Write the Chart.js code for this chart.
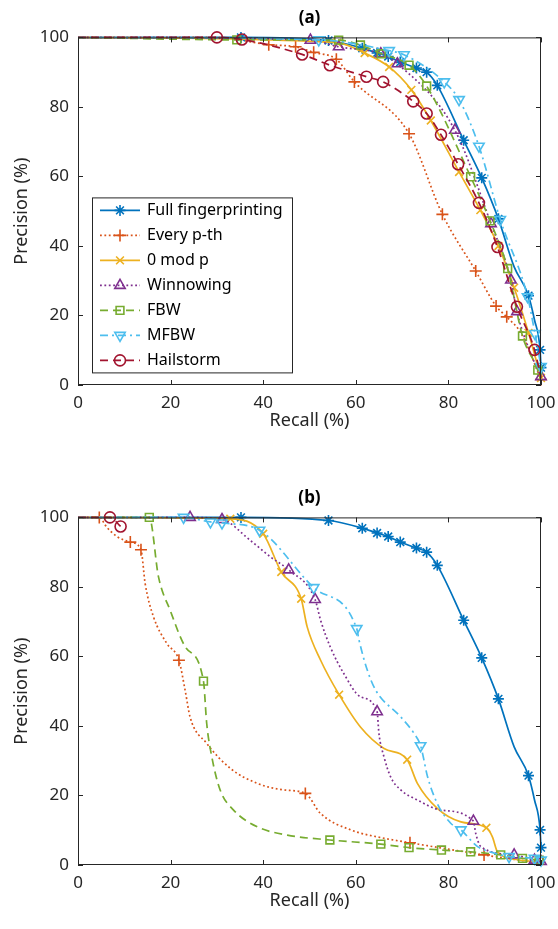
<!DOCTYPE html>
<html>
<head>
<meta charset="utf-8">
<script src="https://cdn.jsdelivr.net/npm/chart.js@4.4.1/dist/chart.umd.min.js"></script>
<style>
  body { margin: 0; background: #fff; }
  canvas { position: absolute; left: 0; }
</style>
</head>
<body>
<canvas id="chartA" width="558" height="464" style="top:0"></canvas>
<canvas id="chartB" width="558" height="465" style="top:464px"></canvas>
<script>
// ---- data (recall %, precision %, 1 = marker drawn at that point) ----
const seriesNames = ['Full fingerprinting', 'Every p-th', '0 mod p', 'Winnowing', 'FBW', 'MFBW', 'Hailstorm'];
const axisTicks = [0, 20, 40, 60, 80, 100];

// full fingerprinting is the same curve in (a) and (b)
const fullRecall = [0, 35.2, 54.1, 61.4, 64.6, 67.0, 69.6, 73.1, 75.3, 77.6, 83.3, 87.2, 90.8, 94.2, 97.3, 98.6, 99.8, 100];
const fullPrec   = [100, 100, 99.1, 96.9, 95.5, 94.5, 92.9, 91.2, 90.0, 86.2, 70.4, 59.6, 47.8, 34.0, 25.7, 18.7, 10.1, 5.0];
const fullMark   = [0, 1, 1, 1, 1, 1, 1, 1, 1, 1, 1, 1, 1, 0, 1, 0, 1, 1];

// (a)
const aEveryRecall = [0, 30, 41.2, 47.0, 50.9, 55.8, 59.7, 71.5, 78.7, 85.9, 90.3, 92.6, 95.7, 100];
const aEveryPrec   = [100, 100, 97.9, 97.3, 95.7, 93.7, 87.2, 72.3, 49.1, 32.8, 22.7, 19.6, 14.9, 1.6];
const aEveryMark   = [0, 0, 1, 1, 1, 1, 1, 1, 1, 1, 1, 1, 0, 1];

const aModRecall = [0, 56.0, 61.9, 67.2, 72.0, 76.2, 82.3, 86.9, 90.8, 94.2, 97.3, 100];
const aModPrec   = [100, 98.5, 95.5, 91.5, 84.9, 76.1, 61.3, 50.3, 40.0, 28.0, 15.0, 2.0];
const aModMark   = [0, 1, 1, 1, 1, 1, 1, 1, 1, 1, 1, 1];

const aWinRecall = [0, 50.2, 56.3, 65.4, 69.0, 81.4, 89.2, 93.5, 94.8, 97.5, 100];
const aWinPrec   = [100, 99.2, 97.3, 95.3, 92.4, 73.3, 46.4, 30.2, 21.1, 10.0, 2.4];
const aWinMark   = [0, 1, 1, 1, 1, 1, 1, 1, 1, 0, 1];

const aFbwRecall = [0, 34.3, 56.3, 61.0, 65.5, 71.5, 75.3, 84.8, 89.0, 92.8, 96.0, 99.3, 100];
const aFbwPrec   = [100, 99.3, 99.2, 97.8, 95.3, 92.0, 86.0, 59.9, 47.2, 33.5, 14.1, 4.3, 1.0];
const aFbwMark   = [0, 1, 1, 1, 1, 1, 1, 1, 1, 1, 1, 1, 0];

const aMfbwRecall = [0, 52.0, 67.2, 70.4, 79.1, 82.3, 86.6, 91.2, 97.1, 98.7, 100];
const aMfbwPrec   = [100, 99.3, 96.2, 95.0, 87.2, 82.1, 68.7, 47.6, 25.4, 14.8, 5.3];
const aMfbwMark   = [0, 1, 1, 1, 1, 1, 1, 1, 1, 1, 1];

const aHailRecall = [0, 30.0, 35.4, 48.4, 54.4, 62.3, 65.9, 72.4, 75.3, 78.4, 82.1, 86.6, 90.6, 94.8, 98.6, 100];
const aHailPrec   = [100, 100, 99.4, 95.1, 92.0, 88.7, 87.2, 81.6, 78.1, 72.0, 63.5, 52.4, 39.7, 22.5, 10.1, 2.0];
const aHailMark   = [0, 1, 1, 1, 1, 1, 1, 1, 1, 1, 1, 1, 1, 1, 1, 0];

// (b)
const bEveryRecall = [0, 4.6, 6.2, 8.4, 11.3, 13.6, 14.5, 16.3, 19.2, 21.8, 23.2, 24.2, 27.8, 32.9, 38.7, 44.4, 49.1, 52.4, 58.9, 66.1, 71.7, 87.7, 100];
const bEveryPrec   = [100, 100, 97.2, 94.5, 92.9, 90.7, 81.0, 71.4, 63.7, 58.9, 49.8, 42.6, 35.0, 27.8, 23.5, 21.6, 20.6, 14.8, 10.1, 7.7, 6.4, 2.9, 0.5];
const bEveryMark   = [0, 1, 0, 0, 1, 1, 0, 0, 0, 1, 0, 0, 0, 0, 0, 0, 1, 0, 0, 0, 1, 1, 0];

const bModRecall = [0, 32.9, 40.0, 43.9, 48.2, 49.5, 52.4, 56.4, 61.0, 66.1, 71.1, 73.3, 77.6, 82.7, 88.2, 89.5, 90.6, 95.0, 100];
const bModPrec   = [100, 99.6, 95.3, 84.3, 76.6, 68.5, 58.9, 49.0, 39.7, 33.5, 30.3, 23.5, 16.3, 12.4, 10.7, 8.1, 3.8, 1.5, 0.8];
const bModMark   = [0, 1, 1, 1, 1, 0, 0, 1, 0, 0, 1, 0, 0, 0, 1, 0, 0, 0, 0];

const bWinRecall = [0, 24.2, 31.1, 37.2, 41.6, 45.5, 51.2, 52.4, 54.5, 57.4, 61.0, 64.6, 65.0, 66.1, 67.5, 69.7, 73.3, 78.4, 85.4, 85.9, 87.0, 94.2, 98.6, 100];
const bWinPrec   = [100, 100, 99.4, 93.4, 88.6, 84.9, 76.4, 70.4, 62.7, 55.1, 48.4, 44.1, 37.8, 31.1, 25.4, 21.6, 18.7, 15.8, 12.6, 9.1, 5.3, 2.9, 1.4, 1.0];
const bWinMark   = [0, 1, 1, 0, 0, 1, 1, 0, 0, 0, 0, 1, 0, 0, 0, 0, 0, 0, 1, 0, 0, 1, 1, 1];

const bFbwRecall = [0, 15.4, 17.4, 19.9, 23.2, 27.1, 27.8, 28.9, 30.7, 33.6, 38.7, 45.2, 54.4, 65.4, 71.5, 78.5, 84.8, 91.3, 96.0, 99.6];
const bFbwPrec   = [100, 100, 82.8, 73.3, 62.7, 52.9, 40.7, 31.1, 21.6, 15.8, 11.0, 8.6, 7.2, 6.0, 5.0, 4.3, 3.8, 2.9, 1.9, 1.4];
const bFbwMark   = [0, 1, 0, 0, 0, 1, 0, 0, 0, 0, 0, 0, 1, 1, 1, 1, 1, 1, 1, 1];

const bMfbwRecall = [0, 22.8, 28.6, 31.1, 39.2, 50.9, 60.2, 60.7, 62.5, 64.3, 69.7, 72.6, 74.0, 75.5, 77.6, 80.5, 82.7, 86.3, 89.9, 93.1, 98.6, 100];
const bMfbwPrec   = [100, 100, 98.7, 98.4, 96.3, 79.8, 68.0, 64.7, 56.0, 50.3, 42.6, 37.8, 34.3, 25.4, 17.7, 12.0, 10.1, 5.3, 3.4, 2.4, 1.9, 1.4];
const bMfbwMark   = [0, 1, 1, 1, 1, 1, 1, 0, 0, 0, 0, 0, 1, 0, 0, 0, 1, 0, 0, 1, 1, 1];

const bHailRecall = [0, 6.9, 9.2];
const bHailPrec   = [100, 100, 97.4];
const bHailMark   = [0, 1, 1];

// ---- styles (MATLAB default colour order) ----
const seriesStyles = [
  { color: '#0072BD', dash: [],              marker: 'star',     rot: 0,   size: 5.5 },
  { color: '#D95319', dash: [1.8, 2.6],      marker: 'cross',    rot: 0,   size: 6 },
  { color: '#EDB120', dash: [],              marker: 'crossRot', rot: 0,   size: 5.5 },
  { color: '#7E2F8E', dash: [1.8, 2.6],      marker: 'triangle', rot: 0,   size: 6 },
  { color: '#77AC30', dash: [8, 5],          marker: 'rect',     rot: 0,   size: 5.5 },
  { color: '#4DBEEE', dash: [8, 4, 2, 4],    marker: 'triangle', rot: 180, size: 6 },
  { color: '#A2142F', dash: [8, 5],          marker: 'circle',   rot: 0,   size: 5.5 }
];

function makeSet(i, rec, prec, mark) {
  const st = seriesStyles[i];
  return {
    label: seriesNames[i],
    data: rec.map((r, k) => ({ x: r, y: prec[k] })),
    borderColor: st.color,
    backgroundColor: 'rgba(0,0,0,0)',
    borderWidth: 1.7,
    borderDash: st.dash,
    pointStyle: st.marker,
    pointRotation: st.rot,
    pointRadius: mark.map(m => m ? st.size : 0),
    pointHoverRadius: 0,
    pointBorderColor: st.color,
    pointBackgroundColor: 'rgba(0,0,0,0)',
    pointBorderWidth: 1.6,
    cubicInterpolationMode: 'monotone',
    clip: false,
    order: seriesNames.length - i   // later series on top, like MATLAB
  };
}

const setsA = [
  makeSet(0, fullRecall, fullPrec, fullMark),
  makeSet(1, aEveryRecall, aEveryPrec, aEveryMark),
  makeSet(2, aModRecall, aModPrec, aModMark),
  makeSet(3, aWinRecall, aWinPrec, aWinMark),
  makeSet(4, aFbwRecall, aFbwPrec, aFbwMark),
  makeSet(5, aMfbwRecall, aMfbwPrec, aMfbwMark),
  makeSet(6, aHailRecall, aHailPrec, aHailMark)
];
const setsB = [
  makeSet(0, fullRecall, fullPrec, fullMark),
  makeSet(1, bEveryRecall, bEveryPrec, bEveryMark),
  makeSet(2, bModRecall, bModPrec, bModMark),
  makeSet(3, bWinRecall, bWinPrec, bWinMark),
  makeSet(4, bFbwRecall, bFbwPrec, bFbwMark),
  makeSet(5, bMfbwRecall, bMfbwPrec, bMfbwMark),
  makeSet(6, bHailRecall, bHailPrec, bHailMark)
];

const axisColor = '#262626';
Chart.defaults.font.family = '"Noto Sans", sans-serif';
Chart.defaults.font.size = 17;
Chart.defaults.color = axisColor;

// box round the axes with inward ticks on all four sides
const boxPlugin = {
  id: 'matlabBox',
  afterDatasetsDraw(chart) {
    const { ctx, chartArea: a, scales: { x, y } } = chart;
    const len = 5;
    ctx.save();
    ctx.strokeStyle = axisColor;
    ctx.lineWidth = 1;
    ctx.setLineDash([]);
    ctx.strokeRect(a.left + 0.5, a.top + 0.5, a.right - a.left - 1, a.bottom - a.top - 1);
    ctx.beginPath();
    axisTicks.forEach(v => {
      const px = Math.round(x.getPixelForValue(v)) + 0.5;
      ctx.moveTo(px, a.bottom); ctx.lineTo(px, a.bottom - len);
      ctx.moveTo(px, a.top); ctx.lineTo(px, a.top + len);
      const py = Math.round(y.getPixelForValue(v)) + 0.5;
      ctx.moveTo(a.left, py); ctx.lineTo(a.left + len, py);
      ctx.moveTo(a.right, py); ctx.lineTo(a.right - len, py);
    });
    ctx.stroke();
    ctx.restore();
  }
};

// legend box inside the upper plot
const legendPlugin = {
  id: 'boxLegend',
  afterDraw(chart, args, opts) {
    if (!opts.show) return;
    const { ctx, chartArea: a } = chart;
    const left = a.left + 14, top = a.top + 160, w = 200, rowH = 25;
    const h = rowH * chart.data.datasets.length;
    ctx.save();
    ctx.fillStyle = '#fff';
    ctx.fillRect(left, top, w, h);
    ctx.strokeStyle = axisColor;
    ctx.lineWidth = 1;
    ctx.strokeRect(left + 0.5, top + 0.5, w, h);
    chart.data.datasets.forEach((ds, i) => {
      const st = seriesStyles[i];
      const cy = top + rowH / 2 + i * rowH + 0.5;
      ctx.strokeStyle = st.color;
      ctx.lineWidth = 1.7;
      ctx.setLineDash(st.dash);
      ctx.beginPath();
      ctx.moveTo(left + 8, cy);
      ctx.lineTo(left + 48, cy);
      ctx.stroke();
      ctx.setLineDash([]);
      ctx.lineWidth = 1.6;
      ctx.fillStyle = 'rgba(0,0,0,0)';
      Chart.helpers.drawPoint(ctx, { pointStyle: st.marker, rotation: st.rot, radius: st.size, borderWidth: 1.6 }, left + 28, cy);
      ctx.fillStyle = '#000';
      ctx.font = '16px "Noto Sans", sans-serif';
      ctx.textBaseline = 'middle';
      ctx.fillText(ds.label, left + 55, cy);
    });
    ctx.restore();
  }
};

function makeOptions(title, padTop, xHeight, xTitlePad, showLegend) {
  return {
    responsive: false,
    animation: false,
    events: [],
    layout: { padding: { top: padTop, right: 17, bottom: 0, left: 0 } },
    plugins: {
      legend: { display: false },
      tooltip: { enabled: false },
      title: {
        display: true, text: title, fullSize: false, color: '#000',
        font: { size: 17, weight: 'bold' }, padding: { top: 0, bottom: 9 }
      },
      boxLegend: { show: showLegend }
    },
    scales: {
      x: {
        type: 'linear', min: 0, max: 100,
        ticks: { stepSize: 20, padding: 8, color: axisColor },
        grid: { display: false, drawTicks: false },
        border: { display: false },
        title: { display: true, text: 'Recall (%)', color: axisColor, font: { size: 18 },
                 padding: { top: xTitlePad, bottom: xTitlePad } },
        afterFit(s) { s.height = xHeight; s.paddingLeft = 0; s.paddingRight = 0; }
      },
      y: {
        type: 'linear', min: 0, max: 100,
        ticks: { stepSize: 20, padding: 9, color: axisColor },
        grid: { display: false, drawTicks: false },
        border: { display: false },
        title: { display: true, text: 'Precision (%)', color: axisColor, font: { size: 18 },
                 padding: { top: 11, bottom: 11 } },
        afterFit(s) { s.width = 78; s.paddingTop = 0; s.paddingBottom = 0; }
      }
    }
  };
}

new Chart(document.getElementById('chartA'), {
  type: 'line',
  data: { datasets: setsA },
  options: makeOptions('(a)', 8, 79, 32, true),
  plugins: [boxPlugin, legendPlugin]
});

new Chart(document.getElementById('chartB'), {
  type: 'line',
  data: { datasets: setsB },
  options: makeOptions('(b)', 24, 64, 17, false),
  plugins: [boxPlugin, legendPlugin]
});
</script>
</body>
</html>
